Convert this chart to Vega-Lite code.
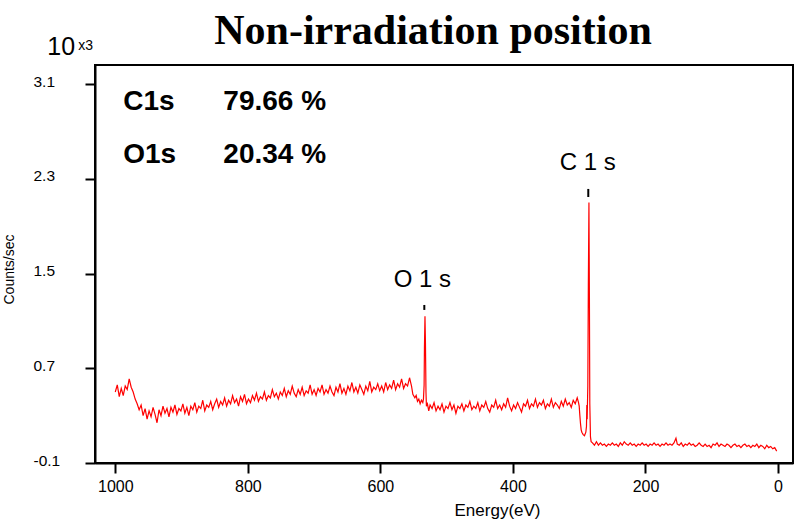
{
"$schema": "https://vega.github.io/schema/vega-lite/v6.json",
"width": 698, "height": 398,
"autosize": {"type": "none"},
"padding": {"left": 95, "top": 65, "right": 5, "bottom": 56},
"background": "white",
"title": {"text": "Non-irradiation position", "font": "Liberation Serif", "fontSize": 42, "fontWeight": "bold", "color": "black", "anchor": "middle", "dx": -11, "offset": -51, "baseline": "alphabetic"},
"config": {
  "view": {"stroke": "black", "strokeWidth": 2},
  "axis": {"grid": false, "domainColor": "black", "domainWidth": 2, "tickColor": "black", "tickWidth": 2, "tickSize": 10, "labelFont": "Liberation Sans", "labelColor": "black", "titleFont": "Liberation Sans", "titleFontWeight": "normal", "titleColor": "black", "labelFlush": false, "labelOverlap": false}
},
"datasets": {
  "spectrum": [
{"E":1000,"v":0.50},{"E":997,"v":0.56},{"E":994,"v":0.46},{"E":991,"v":0.53},{"E":988,"v":0.47},{"E":985,"v":0.55},{"E":982,"v":0.52},{"E":979,"v":0.61},{"E":976,"v":0.54},{"E":973,"v":0.50},{"E":970,"v":0.44},{"E":967,"v":0.40},{"E":964,"v":0.35},{"E":961,"v":0.39},{"E":958,"v":0.30},{"E":955,"v":0.36},{"E":952,"v":0.27},{"E":949,"v":0.34},{"E":946,"v":0.29},{"E":943,"v":0.37},{"E":940,"v":0.31},{"E":937,"v":0.24},{"E":934,"v":0.35},{"E":931,"v":0.30},{"E":928,"v":0.38},{"E":925,"v":0.32},{"E":922,"v":0.36},{"E":919,"v":0.29},{"E":916,"v":0.37},{"E":913,"v":0.33},{"E":910,"v":0.39},{"E":907,"v":0.31},{"E":904,"v":0.36},{"E":901,"v":0.34},{"E":898,"v":0.40},{"E":895,"v":0.32},{"E":892,"v":0.37},{"E":889,"v":0.30},{"E":886,"v":0.38},{"E":883,"v":0.35},{"E":880,"v":0.41},{"E":877,"v":0.33},{"E":874,"v":0.38},{"E":871,"v":0.36},{"E":868,"v":0.43},{"E":865,"v":0.34},{"E":862,"v":0.39},{"E":859,"v":0.37},{"E":856,"v":0.42},{"E":853,"v":0.35},{"E":850,"v":0.40},{"E":847,"v":0.44},{"E":844,"v":0.37},{"E":841,"v":0.42},{"E":838,"v":0.39},{"E":835,"v":0.45},{"E":832,"v":0.38},{"E":829,"v":0.43},{"E":826,"v":0.40},{"E":823,"v":0.47},{"E":820,"v":0.41},{"E":817,"v":0.44},{"E":814,"v":0.38},{"E":811,"v":0.46},{"E":808,"v":0.42},{"E":805,"v":0.48},{"E":802,"v":0.40},{"E":799,"v":0.44},{"E":796,"v":0.41},{"E":793,"v":0.47},{"E":790,"v":0.43},{"E":787,"v":0.49},{"E":784,"v":0.42},{"E":781,"v":0.46},{"E":778,"v":0.44},{"E":775,"v":0.50},{"E":772,"v":0.43},{"E":769,"v":0.47},{"E":766,"v":0.45},{"E":763,"v":0.52},{"E":760,"v":0.46},{"E":757,"v":0.49},{"E":754,"v":0.44},{"E":751,"v":0.50},{"E":748,"v":0.47},{"E":745,"v":0.53},{"E":742,"v":0.46},{"E":739,"v":0.51},{"E":736,"v":0.48},{"E":733,"v":0.55},{"E":730,"v":0.49},{"E":727,"v":0.46},{"E":724,"v":0.52},{"E":721,"v":0.48},{"E":718,"v":0.54},{"E":715,"v":0.47},{"E":712,"v":0.51},{"E":709,"v":0.49},{"E":706,"v":0.56},{"E":703,"v":0.48},{"E":700,"v":0.52},{"E":697,"v":0.47},{"E":694,"v":0.53},{"E":691,"v":0.50},{"E":688,"v":0.56},{"E":685,"v":0.48},{"E":682,"v":0.52},{"E":679,"v":0.49},{"E":676,"v":0.55},{"E":673,"v":0.50},{"E":670,"v":0.47},{"E":667,"v":0.54},{"E":664,"v":0.50},{"E":661,"v":0.57},{"E":658,"v":0.49},{"E":655,"v":0.53},{"E":652,"v":0.48},{"E":649,"v":0.55},{"E":646,"v":0.51},{"E":643,"v":0.58},{"E":640,"v":0.50},{"E":637,"v":0.54},{"E":634,"v":0.49},{"E":631,"v":0.56},{"E":628,"v":0.52},{"E":625,"v":0.48},{"E":622,"v":0.55},{"E":619,"v":0.51},{"E":616,"v":0.59},{"E":613,"v":0.50},{"E":610,"v":0.54},{"E":607,"v":0.52},{"E":604,"v":0.57},{"E":601,"v":0.51},{"E":598,"v":0.55},{"E":595,"v":0.50},{"E":592,"v":0.58},{"E":589,"v":0.52},{"E":586,"v":0.56},{"E":583,"v":0.53},{"E":580,"v":0.60},{"E":577,"v":0.52},{"E":574,"v":0.57},{"E":571,"v":0.54},{"E":568,"v":0.61},{"E":565,"v":0.53},{"E":562,"v":0.57},{"E":559,"v":0.55},{"E":556,"v":0.62},{"E":553,"v":0.55},{"E":551,"v":0.48},{"E":548,"v":0.45},{"E":546,"v":0.47},{"E":544,"v":0.42},{"E":542,"v":0.44},{"E":540,"v":0.40},{"E":538,"v":0.43},{"E":536,"v":0.41},{"E":535,"v":0.44},{"E":534,"v":0.56},{"E":533.5,"v":0.88},{"E":532.7,"v":1.14},{"E":532,"v":0.92},{"E":531.2,"v":0.50},{"E":530.5,"v":0.38},{"E":529,"v":0.40},{"E":527,"v":0.34},{"E":525,"v":0.39},{"E":522,"v":0.36},{"E":519,"v":0.41},{"E":516,"v":0.34},{"E":513,"v":0.38},{"E":510,"v":0.35},{"E":507,"v":0.40},{"E":504,"v":0.33},{"E":501,"v":0.38},{"E":498,"v":0.36},{"E":495,"v":0.41},{"E":492,"v":0.35},{"E":489,"v":0.39},{"E":486,"v":0.32},{"E":483,"v":0.38},{"E":480,"v":0.36},{"E":477,"v":0.40},{"E":474,"v":0.34},{"E":471,"v":0.39},{"E":468,"v":0.37},{"E":465,"v":0.42},{"E":462,"v":0.35},{"E":459,"v":0.38},{"E":456,"v":0.36},{"E":453,"v":0.41},{"E":450,"v":0.34},{"E":447,"v":0.39},{"E":444,"v":0.37},{"E":441,"v":0.42},{"E":438,"v":0.36},{"E":435,"v":0.33},{"E":432,"v":0.39},{"E":429,"v":0.37},{"E":426,"v":0.43},{"E":423,"v":0.36},{"E":420,"v":0.39},{"E":417,"v":0.35},{"E":414,"v":0.40},{"E":411,"v":0.37},{"E":408,"v":0.45},{"E":405,"v":0.38},{"E":402,"v":0.34},{"E":399,"v":0.39},{"E":396,"v":0.36},{"E":393,"v":0.41},{"E":390,"v":0.37},{"E":387,"v":0.33},{"E":384,"v":0.40},{"E":381,"v":0.38},{"E":378,"v":0.43},{"E":375,"v":0.36},{"E":372,"v":0.40},{"E":369,"v":0.38},{"E":366,"v":0.44},{"E":363,"v":0.37},{"E":360,"v":0.41},{"E":357,"v":0.39},{"E":354,"v":0.43},{"E":351,"v":0.36},{"E":348,"v":0.40},{"E":345,"v":0.38},{"E":342,"v":0.44},{"E":339,"v":0.37},{"E":336,"v":0.41},{"E":333,"v":0.39},{"E":330,"v":0.36},{"E":327,"v":0.42},{"E":324,"v":0.38},{"E":321,"v":0.44},{"E":318,"v":0.39},{"E":315,"v":0.41},{"E":312,"v":0.37},{"E":309,"v":0.43},{"E":306,"v":0.40},{"E":303,"v":0.45},{"E":301,"v":0.41},{"E":300,"v":0.38},{"E":299,"v":0.30},{"E":298,"v":0.23},{"E":297,"v":0.18},{"E":296,"v":0.16},{"E":294,"v":0.14},{"E":292,"v":0.13},{"E":290,"v":0.16},{"E":289,"v":0.21},{"E":288.5,"v":0.39},{"E":288,"v":0.27},{"E":287,"v":0.55},{"E":286.2,"v":1.40},{"E":285.3,"v":2.10},{"E":284.6,"v":1.30},{"E":284,"v":0.40},{"E":283,"v":0.12},{"E":282,"v":0.08},{"E":280,"v":0.07},{"E":277,"v":0.05},{"E":274,"v":0.08},{"E":271,"v":0.05},{"E":268,"v":0.07},{"E":265,"v":0.05},{"E":262,"v":0.06},{"E":259,"v":0.04},{"E":256,"v":0.06},{"E":253,"v":0.05},{"E":250,"v":0.07},{"E":247,"v":0.05},{"E":244,"v":0.06},{"E":241,"v":0.04},{"E":238,"v":0.07},{"E":235,"v":0.05},{"E":232,"v":0.08},{"E":229,"v":0.06},{"E":226,"v":0.05},{"E":223,"v":0.07},{"E":220,"v":0.05},{"E":217,"v":0.06},{"E":214,"v":0.04},{"E":211,"v":0.06},{"E":208,"v":0.05},{"E":205,"v":0.07},{"E":202,"v":0.05},{"E":199,"v":0.06},{"E":196,"v":0.04},{"E":193,"v":0.06},{"E":190,"v":0.05},{"E":187,"v":0.07},{"E":184,"v":0.05},{"E":181,"v":0.06},{"E":178,"v":0.04},{"E":175,"v":0.06},{"E":172,"v":0.05},{"E":169,"v":0.07},{"E":166,"v":0.05},{"E":163,"v":0.06},{"E":160,"v":0.05},{"E":157,"v":0.07},{"E":154,"v":0.11},{"E":152,"v":0.06},{"E":149,"v":0.05},{"E":146,"v":0.07},{"E":143,"v":0.04},{"E":140,"v":0.06},{"E":137,"v":0.05},{"E":134,"v":0.07},{"E":131,"v":0.05},{"E":128,"v":0.06},{"E":125,"v":0.04},{"E":122,"v":0.05},{"E":119,"v":0.07},{"E":116,"v":0.05},{"E":113,"v":0.04},{"E":110,"v":0.06},{"E":107,"v":0.04},{"E":104,"v":0.05},{"E":101,"v":0.03},{"E":98,"v":0.06},{"E":95,"v":0.05},{"E":92,"v":0.07},{"E":89,"v":0.04},{"E":86,"v":0.06},{"E":83,"v":0.05},{"E":80,"v":0.04},{"E":77,"v":0.06},{"E":74,"v":0.05},{"E":71,"v":0.03},{"E":68,"v":0.05},{"E":65,"v":0.06},{"E":62,"v":0.04},{"E":59,"v":0.05},{"E":56,"v":0.03},{"E":53,"v":0.05},{"E":50,"v":0.06},{"E":47,"v":0.04},{"E":44,"v":0.05},{"E":41,"v":0.03},{"E":38,"v":0.05},{"E":35,"v":0.04},{"E":32,"v":0.06},{"E":29,"v":0.03},{"E":26,"v":0.05},{"E":23,"v":0.04},{"E":20,"v":0.02},{"E":17,"v":0.05},{"E":14,"v":0.03},{"E":11,"v":0.04},{"E":8,"v":0.02},{"E":5,"v":0.03},{"E":2,"v":0.00}
  ],
  "stats": [
    {"E": 988, "v": 2.882, "t": "C1s"}, {"E": 837, "v": 2.882, "t": "79.66 %"},
    {"E": 988, "v": 2.434, "t": "O1s"}, {"E": 837, "v": 2.434, "t": "20.34 %"}
  ],
  "peaks": [
    {"E": 536.7, "v": 1.387, "t": "O 1 s"}, {"E": 287, "v": 2.375, "t": "C 1 s"}
  ],
  "marks": [
    {"E": 533.7, "v": 1.235, "v2": 1.193}, {"E": 286.3, "v": 2.215, "v2": 2.147}
  ],
  "big": [{"E": 1102.6, "v": 3.347, "t": "10"}],
  "small": [{"E": 1055.8, "v": 3.389, "t": "x3"}]
},
"encoding": {
  "x": {"field": "E", "type": "quantitative",
        "scale": {"domain": [-22.6, 1030.6], "reverse": true, "nice": false, "zero": false},
        "axis": {"values": [1000, 800, 600, 400, 200, 0], "format": "d", "title": "Energy(eV)", "labelFontSize": 16, "labelPadding": 5, "titleFontSize": 17, "titleX": 402, "titleY": 52, "titleBaseline": "alphabetic", "titleAlign": "center"}},
  "y": {"field": "v", "type": "quantitative",
        "scale": {"domain": [-0.1, 3.262], "nice": false, "zero": false},
        "axis": {"values": [-0.1, 0.7, 1.5, 2.3, 3.1], "format": ".1f", "labelExpr": "replace(format(datum.value, '.1f'), '\u2212', '-')", "title": "Counts/sec", "labelFontSize": 15.5, "labelAlign": "left", "labelPadding": 52, "labelBaseline": "middle", "labelOffset": -3, "titleFontSize": 14, "titleAngle": 270, "titleX": -82, "titleY": 204, "titleBaseline": "alphabetic", "titleAlign": "center"}}
},
"layer": [
  {"data": {"name": "spectrum"}, "mark": {"type": "line", "color": "#ff0000", "strokeWidth": 1.2}},
  {"data": {"name": "stats"}, "mark": {"type": "text", "font": "Liberation Sans", "fontSize": 28, "fontWeight": "bold", "align": "left", "baseline": "alphabetic", "color": "black"}, "encoding": {"text": {"field": "t"}}},
  {"data": {"name": "peaks"}, "mark": {"type": "text", "font": "Liberation Sans", "fontSize": 24, "align": "center", "baseline": "alphabetic", "color": "black"}, "encoding": {"text": {"field": "t"}}},
  {"data": {"name": "marks"}, "mark": {"type": "rule", "color": "black", "strokeWidth": 2}, "encoding": {"y2": {"field": "v2"}}},
  {"data": {"name": "big"}, "mark": {"type": "text", "font": "Liberation Sans", "fontSize": 25, "align": "left", "baseline": "alphabetic", "color": "black"}, "encoding": {"text": {"field": "t"}}},
  {"data": {"name": "small"}, "mark": {"type": "text", "font": "Liberation Sans", "fontSize": 14, "align": "left", "baseline": "alphabetic", "color": "black"}, "encoding": {"text": {"field": "t"}}}
]
}
